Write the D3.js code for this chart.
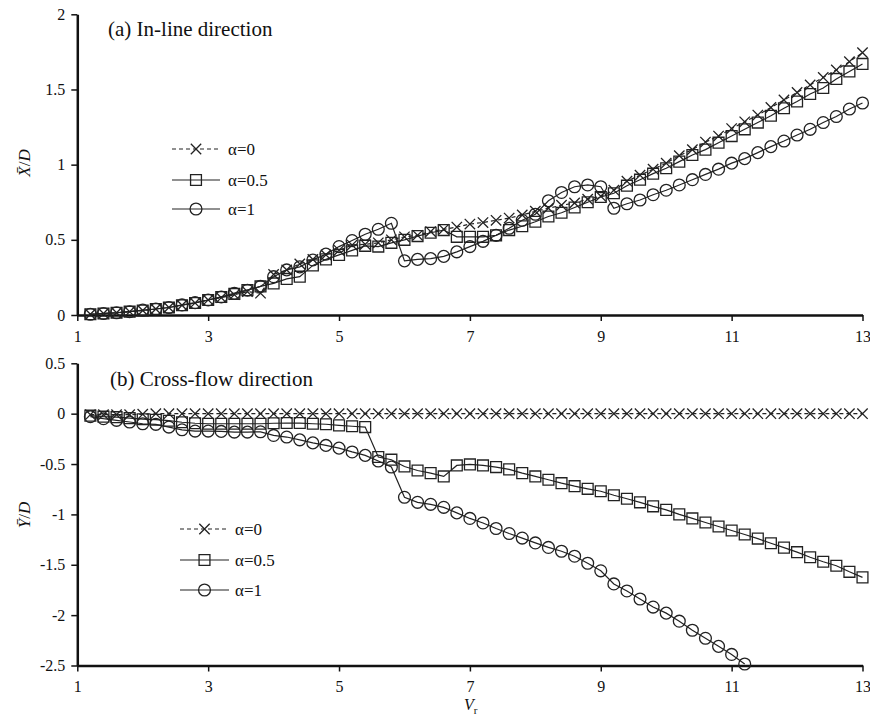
<!DOCTYPE html>
<html>
<head>
<meta charset="utf-8">
<script src="https://cdn.jsdelivr.net/npm/d3@7"></script>
<style>
  body { margin: 0; background: #fff; }
  text { font-family: "Liberation Serif", "Times New Roman", serif; fill: #111; }
</style>
</head>
<body>
<div id="chart"></div>
<script>
// reduced velocity
const vr = [1.2, 1.4, 1.6, 1.8, 2.0, 2.2, 2.4, 2.6, 2.8, 3.0,
  3.2, 3.4, 3.6, 3.8, 4.0, 4.2, 4.4, 4.6, 4.8, 5.0,
  5.2, 5.4, 5.6, 5.8, 6.0, 6.2, 6.4, 6.6, 6.8, 7.0,
  7.2, 7.4, 7.6, 7.8, 8.0, 8.2, 8.4, 8.6, 8.8, 9.0,
  9.2, 9.4, 9.6, 9.8, 10.0, 10.2, 10.4, 10.6, 10.8, 11.0,
  11.2, 11.4, 11.6, 11.8, 12.0, 12.2, 12.4, 12.6, 12.8, 13.0];

// (a) in-line mean displacement X/D
const inline0 = [0.005, 0.01, 0.015, 0.022, 0.03, 0.04, 0.05, 0.065, 0.08, 0.10,
  0.115, 0.135, 0.155, 0.145, 0.27, 0.30, 0.34, 0.37, 0.40, 0.43,
  0.465, 0.47, 0.48, 0.50, 0.52, 0.53, 0.555, 0.57, 0.585, 0.605,
  0.615, 0.63, 0.645, 0.665, 0.69, 0.71, 0.73, 0.745, 0.77, 0.79,
  0.83, 0.89, 0.93, 0.97, 1.01, 1.06, 1.10, 1.15, 1.19, 1.24,
  1.285, 1.33, 1.38, 1.43, 1.48, 1.53, 1.58, 1.63, 1.685, 1.745];
const inline05 = [0.005, 0.01, 0.015, 0.022, 0.03, 0.04, 0.05, 0.065, 0.08, 0.10,
  0.12, 0.14, 0.165, 0.19, 0.21, 0.24, 0.255, 0.33, 0.37, 0.40,
  0.43, 0.46, 0.455, 0.48, 0.50, 0.525, 0.547, 0.565, 0.52, 0.52,
  0.52, 0.53, 0.565, 0.59, 0.62, 0.655, 0.68, 0.715, 0.75, 0.785,
  0.81, 0.86, 0.90, 0.94, 0.976, 1.02, 1.064, 1.10, 1.146, 1.19,
  1.235, 1.28, 1.325, 1.375, 1.42, 1.47, 1.51, 1.57, 1.62, 1.67];
const inline1 = [0.005, 0.01, 0.015, 0.022, 0.033, 0.04, 0.05, 0.067, 0.082, 0.10,
  0.12, 0.145, 0.165, 0.19, 0.255, 0.30, 0.32, 0.366, 0.405, 0.455,
  0.495, 0.537, 0.57, 0.61, 0.36, 0.37, 0.375, 0.39, 0.42, 0.455,
  0.49, 0.53, 0.577, 0.63, 0.67, 0.76, 0.815, 0.853, 0.865, 0.853,
  0.71, 0.74, 0.765, 0.80, 0.83, 0.865, 0.90, 0.935, 0.97, 1.01,
  1.04, 1.08, 1.12, 1.157, 1.197, 1.235, 1.28, 1.32, 1.37, 1.41];

// (b) cross-flow mean displacement Y/D
const cross0 = [-0.01, -0.01, -0.01, -0.01, -0.005, 0, 0, 0, 0, 0,
  0, 0, 0, 0, 0, 0, 0, 0, 0, 0,
  0, 0, 0, 0, 0, 0, 0, 0, 0, 0,
  0, 0, 0, 0, 0, 0, 0, 0, 0, 0,
  0, 0, 0, 0, 0, 0, 0, 0, 0, 0,
  0, 0, 0, 0, 0, 0, 0, 0, 0, 0];
const cross05 = [-0.02, -0.03, -0.035, -0.045, -0.055, -0.06, -0.07, -0.085, -0.095, -0.1,
  -0.1, -0.1, -0.1, -0.1, -0.095, -0.093, -0.093, -0.1, -0.105, -0.116,
  -0.125, -0.133, -0.43, -0.457, -0.524, -0.564, -0.59, -0.623, -0.514, -0.504,
  -0.514, -0.53, -0.553, -0.59, -0.623, -0.656, -0.69, -0.72, -0.746, -0.77,
  -0.81, -0.845, -0.88, -0.92, -0.955, -1.0, -1.04, -1.08, -1.12, -1.16,
  -1.2, -1.24, -1.286, -1.33, -1.375, -1.425, -1.47, -1.51, -1.57, -1.625];
const cross1 = [-0.03, -0.05, -0.066, -0.083, -0.1, -0.106, -0.133, -0.16, -0.173, -0.173,
  -0.176, -0.183, -0.183, -0.18, -0.216, -0.232, -0.26, -0.29, -0.315, -0.342,
  -0.38, -0.414, -0.47, -0.53, -0.83, -0.88, -0.90, -0.93, -0.985, -1.04,
  -1.085, -1.14, -1.19, -1.235, -1.283, -1.328, -1.366, -1.415, -1.485, -1.56,
  -1.69, -1.76, -1.84, -1.92, -1.98, -2.06, -2.15, -2.23, -2.31, -2.39,
  -2.485, null, null, null, null, null, null, null, null, null];

const seriesNames = ['α=0', 'α=0.5', 'α=1'];
const xTicks = [1, 3, 5, 7, 9, 11, 13];
const inlineTicks = [0, 0.5, 1, 1.5, 2];
const inlineTickLabels = ['0', '0.5', '1', '1.5', '2'];
const crossTicks = [-2.5, -2, -1.5, -1, -0.5, 0, 0.5];
const crossTickLabels = ['-2.5', '-2', '-1.5', '-1', '-0.5', '0', '0.5'];

const ink = '#222';
const width = 870, height = 721;

const svg = d3.select('#chart').append('svg')
  .attr('width', width)
  .attr('height', height);

const x = d3.scaleLinear().domain([1, 13]).range([77.3, 862.5]);

// marker shapes: times / square / circle
const markers = [
  d3.symbol().type(d3.symbolTimes).size(72),
  d3.symbol().type(d3.symbolSquare2).size(150),
  d3.symbol().type(d3.symbolCircle).size(110)
];
const dashes = ['4,3', null, null];

function drawPanel(opts) {
  const y = d3.scaleLinear().domain(opts.domain).range(opts.range);
  const g = svg.append('g');

  // x axis
  const xAxis = g.append('g')
    .attr('transform', `translate(0, ${opts.range[0]})`)
    .call(d3.axisBottom(x).tickValues(xTicks).tickSize(6).tickSizeOuter(0).tickFormat(d3.format('d')));
  xAxis.select('.domain').attr('stroke', '#111').attr('stroke-width', 2.5);
  xAxis.selectAll('.tick line').attr('stroke', '#111').attr('stroke-width', 1.5);
  xAxis.selectAll('.tick text').attr('font-size', 16).attr('dy', '1.1em')
    .attr('font-family', '"Liberation Serif", serif').attr('fill', '#111');

  // y axis
  const yAxis = g.append('g')
    .attr('transform', 'translate(77.3, 0)')
    .call(d3.axisLeft(y).tickValues(opts.ticks).tickSize(6).tickSizeOuter(0)
      .tickFormat((d, i) => opts.tickLabels[i]));
  yAxis.select('.domain').attr('stroke', '#111').attr('stroke-width', 2.5);
  yAxis.selectAll('.tick line').attr('stroke', '#111').attr('stroke-width', 1.5);
  yAxis.selectAll('.tick text').attr('font-size', 16).attr('x', -12)
    .attr('font-family', '"Liberation Serif", serif').attr('fill', '#111');

  // lines + markers
  opts.series.forEach((vals, s) => {
    const pts = vr.map((v, i) => ({ v, val: vals[i] })).filter(d => d.val !== null);
    const line = d3.line().x(d => x(d.v)).y(d => y(d.val));
    g.append('path')
      .datum(pts)
      .attr('d', line)
      .attr('fill', 'none')
      .attr('stroke', ink)
      .attr('stroke-width', 1.2)
      .attr('stroke-dasharray', dashes[s]);
    g.selectAll(null)
      .data(pts)
      .enter()
      .append('path')
      .attr('d', markers[s])
      .attr('transform', d => `translate(${x(d.v)}, ${y(d.val)})`)
      .attr('fill', 'none')
      .attr('stroke', ink)
      .attr('stroke-width', 1.3);
  });

  // panel title
  g.append('text')
    .attr('x', opts.titleX)
    .attr('y', opts.titleY)
    .attr('font-size', 21)
    .text(opts.title);

  // legend
  seriesNames.forEach((name, s) => {
    const ly = opts.legend.y[s];
    g.append('line')
      .attr('x1', opts.legend.x1).attr('x2', opts.legend.x2)
      .attr('y1', ly).attr('y2', ly)
      .attr('stroke', ink).attr('stroke-width', 1.2)
      .attr('stroke-dasharray', dashes[s]);
    g.append('path')
      .attr('d', markers[s])
      .attr('transform', `translate(${(opts.legend.x1 + opts.legend.x2) / 2}, ${ly})`)
      .attr('fill', 'none').attr('stroke', ink).attr('stroke-width', 1.3);
    g.append('text')
      .attr('x', opts.legend.tx)
      .attr('y', ly + 6)
      .attr('font-size', 17)
      .text(name);
  });

  // y axis label
  const lab = g.append('text')
    .attr('transform', `translate(${opts.labelX}, ${opts.labelY}) rotate(-90)`)
    .attr('text-anchor', 'middle')
    .attr('font-size', 17);
  lab.append('tspan').attr('font-style', 'italic').text(opts.labelVar + '\u0304');
  lab.append('tspan').text('/');
  lab.append('tspan').attr('font-style', 'italic').text('D');
}

drawPanel({
  domain: [0, 2], range: [315, 14.3],
  ticks: inlineTicks, tickLabels: inlineTickLabels,
  series: [inline0, inline05, inline1],
  title: '(a) In-line direction', titleX: 108, titleY: 36,
  legend: { x1: 172, x2: 220, tx: 228, y: [149, 180, 209] },
  labelVar: 'X', labelX: 30, labelY: 163
});

drawPanel({
  domain: [-2.5, 0.5], range: [665.5, 363.3],
  ticks: crossTicks, tickLabels: crossTickLabels,
  series: [cross0, cross05, cross1],
  title: '(b) Cross-flow direction', titleX: 110, titleY: 386,
  legend: { x1: 180, x2: 229, tx: 235, y: [529, 560, 590] },
  labelVar: 'Y', labelX: 30, labelY: 515
});

// x axis title
const xt = svg.append('text')
  .attr('x', 464)
  .attr('y', 710)
  .attr('font-size', 16);
xt.append('tspan').attr('font-style', 'italic').text('V');
xt.append('tspan').attr('font-size', 11).attr('dy', 4).text('r');
</script>
</body>
</html>
